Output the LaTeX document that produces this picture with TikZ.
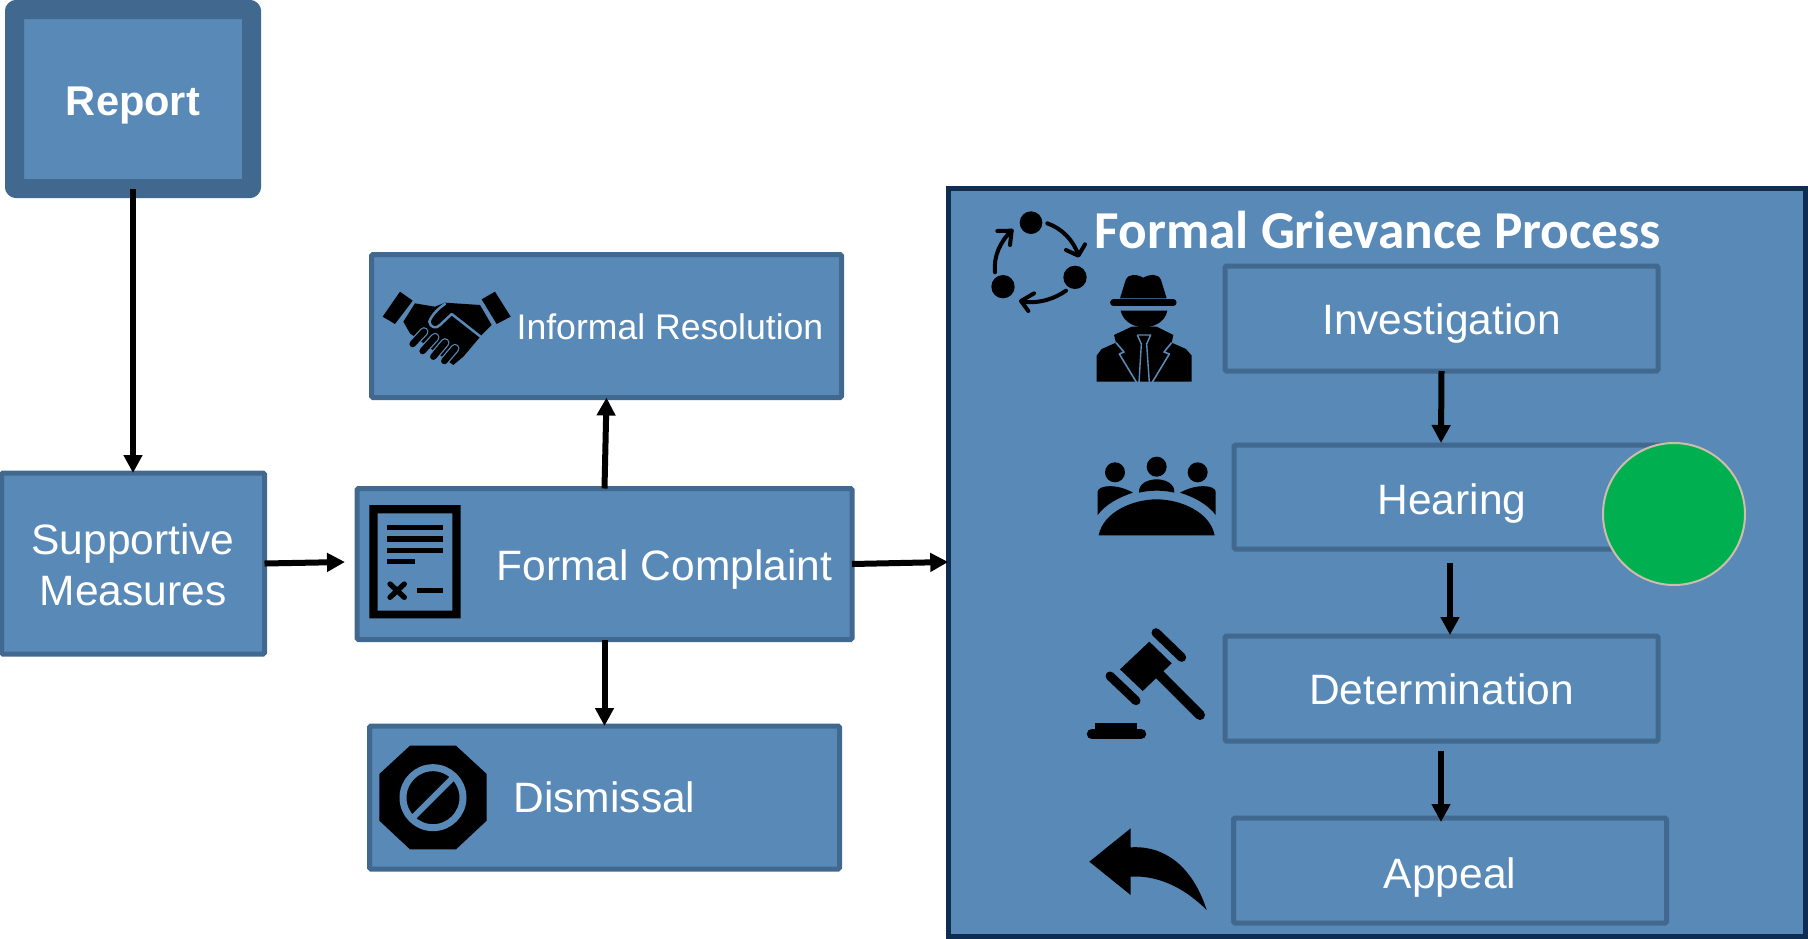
\documentclass[tikz,border=0pt]{standalone}
\usepackage{fontspec}
\setmainfont{Liberation Sans}
\newfontfamily\titlefont{Carlito}
\usetikzlibrary{arrows.meta}
\definecolor{boxfill}{HTML}{5889B7}
\definecolor{boxline}{HTML}{41698F}
\definecolor{navy}{HTML}{0F2D52}
\definecolor{dotgreen}{HTML}{00B050}
\tikzset{
  x=1pt,y=-1pt,
  box/.style={draw=boxline,fill=boxfill,line width=5pt,rounded corners=1.5pt,outer sep=0pt,inner sep=0pt,text=white,align=center,font=\fontsize{42.5}{51}\selectfont},
  lbl/.style={text=white,inner sep=0pt,font=\fontsize{42.5}{51}\selectfont},
  flow/.style={line width=6pt,-{Triangle[length=18pt,width=18pt]}},
  zoomed/.style n args={2}{shift={(#1pt,-#2pt)},x=0.33333pt,y=-0.33333pt},
  inkline/.style={draw=black,line cap=round},
  gap/.style={draw=boxfill,line cap=round},
}
\begin{document}
\begin{tikzpicture}
\useasboundingbox (0,0) rectangle (1808,938);
% boxes
\node[box,line width=19pt,rounded corners=1pt,line join=round,minimum width=237pt,minimum height=179pt,font=\bfseries\fontsize{41.6}{50}\selectfont,text height=33pt,text depth=0pt] (report) at (133,99) {Report};
\node[box,minimum width=263pt,minimum height=181pt] (sm) at (133,563.5) {\rule{0pt}{34pt}Supportive\\Measures};
\node[box,minimum width=495pt,minimum height=151pt] (fc) at (604.5,564) {};
\node[box,minimum width=470pt,minimum height=143pt] (inf) at (606.5,326) {};
\node[box,minimum width=470pt,minimum height=143pt] (dis) at (604.5,797.5) {Dismissal};
\node[draw=navy,fill=boxfill,line width=5pt,outer sep=0pt,inner sep=0pt,minimum width=857.5pt,minimum height=748pt] (big) at (1377,562) {};
\node[box,minimum width=433pt,minimum height=105pt,text height=32pt,text depth=0pt] (inv) at (1441.5,318.5) {Investigation};
\node[box,minimum width=436pt,minimum height=104pt,text height=35pt,text depth=0pt] (hear) at (1452,497) {Hearing};
\node[box,minimum width=433pt,minimum height=105pt,text height=32pt,text depth=0pt] (det) at (1441.5,688.5) {Determination};
\node[box,minimum width=433pt,minimum height=105pt,text height=35pt,text depth=0pt] (app) at (1450,870.5) {Appeal};
\node[lbl,font=\fontsize{35.6}{44}\selectfont] (inflbl) at (670,327) {Informal Resolution};
\node[lbl] (fclbl) at (664.5,570) {Formal Complaint};
\node[lbl,font=\titlefont\bfseries\fontsize{53.3}{62}\selectfont] (title) at (1378,230) {Formal Grievance Process};
\node[circle,draw=black!30!brown!40!white,fill=dotgreen,line width=2pt,minimum size=142pt,inner sep=0pt] (dot) at (1674,514) {};
% connectors
\coordinate (smto) at (345,562);
\coordinate (h0) at (1441,443);
\coordinate (h1) at (1450,563);
\coordinate (h2) at (1450,635);
\coordinate (d1) at (1441,751);
\coordinate (d2) at (1441,822);
\draw[flow] (report.south) -- (sm.north);
\draw[flow] (sm.east) -- (smto);
\draw[flow] (fc.north) -- (inf.south);
\draw[flow] (fc.south) -- (dis.north);
\draw[flow] (fc.east) -- (big.west);
\draw[flow] (inv.south) -- (h0);
\draw[flow] (h1) -- (h2);
\draw[flow] (d1) -- (d2);
% cycle icon
\begin{scope}[zoomed={960}{190}]
\fill (213,98) circle (34);
\fill (345,262) circle (35);
\fill (129,290) circle (35);
\draw[inkline,line width=4pt] (262,100) .. controls (305,115) and (340,150) .. (355,195);
\draw[inkline,line width=4pt,line join=round] (318,180) -- (355,197) -- (375,163);
\draw[inkline,line width=4pt] (318,302) .. controls (285,325) and (240,342) .. (185,335);
\draw[inkline,line width=4pt,line join=round] (222,310) -- (183,333) -- (205,363);
\draw[inkline,line width=4pt] (105,247) .. controls (100,200) and (120,155) .. (155,122);
\draw[inkline,line width=4pt,line join=round] (112,123) -- (155,122) -- (150,165);
% detective
\fill (480,325) -- (497,270) .. controls (505,250) and (530,252) .. (550,263) .. controls (570,252) and (595,250) .. (603,270) -- (620,325) -- cycle;
\draw[inkline,line width=6.5pt] (460,338) -- (640,338);
\fill (482,362) -- (622,362) .. controls (615,400) and (575,412) .. (552,412) .. controls (530,412) and (490,400) .. (482,362) -- cycle;
\fill (410,575) -- (410,497) -- (425,477) -- (468,458) -- (462,435) -- (515,410) -- (590,410) -- (640,435) -- (635,458) -- (678,477) -- (695,497) -- (695,575) -- cycle;
\draw[gap,line width=1.6pt,line cap=butt,line join=round] (468,458) -- (492,486) -- (478,492) -- (530,578);
\draw[gap,line width=1.6pt,line cap=butt,line join=round] (635,458) -- (612,486) -- (628,492) -- (576,578);
\draw[gap,line width=1.4pt,line cap=butt,line join=round] (532,435) -- (572,435) -- (560,462) -- (568,578);
\draw[gap,line width=1.4pt,line cap=butt,line join=round] (532,435) -- (544,462) -- (537,578);
% people
\fill (465,847) circle (30);
\fill (590,830) circle (30);
\fill (713,847) circle (30);
\fill (537,908) .. controls (535,880) and (565,868) .. (590,868) .. controls (615,868) and (645,880) .. (643,908) .. controls (610,900) and (570,900) .. (537,908) -- cycle;
\fill (413,975) -- (413,905) .. controls (415,885) and (470,880) .. (519,908) .. controls (475,922) and (435,945) .. (413,975) -- cycle;
\fill (767,975) -- (767,905) .. controls (765,885) and (710,880) .. (660,908) .. controls (705,922) and (745,945) .. (767,975) -- cycle;
\fill (416,1036) .. controls (430,965) and (520,928) .. (590,928) .. controls (660,928) and (750,965) .. (764,1036) -- cycle;
\end{scope}
% gavel and appeal arrow
\begin{scope}[zoomed={1060}{610}]
\fill (180,178) -- (268,95) -- (335,160) -- (248,243) -- cycle;
\draw[inkline,line width=9pt] (150,198) -- (228,272);
\draw[inkline,line width=9pt] (288,68) -- (365,142);
\draw[inkline,line width=10pt] (300,195) -- (420,315);
\draw[inkline,line width=10.5pt] (96,372) -- (243,372);
\fill (105,338) -- (232,338) -- (232,360) -- (105,360) -- cycle;
\fill (88,755) -- (212,655) -- (212,712) .. controls (330,705) and (405,790) .. (440,900) .. controls (370,830) and (290,795) .. (212,800) -- (212,855) -- cycle;
\end{scope}
% handshake
\begin{scope}[zoomed={350}{250}]
\fill (98,200) -- (150,125) -- (188,152) -- (135,222) -- cycle;
\fill (395,148) -- (435,125) -- (482,200) -- (440,222) -- cycle;
\fill (160,215) -- (195,160) -- (255,170) -- (285,158) -- (390,165) -- (425,225) -- (395,255) -- (340,320) -- (310,345) -- (180,250) -- cycle;
\foreach \xa/\ya/\xb/\yb in {188/282/222/245,218/303/255/262,250/320/285/278,283/333/315/295}{
  \draw[gap,line width=9pt] (\xa,\ya) -- (\xb,\yb);
  \draw[inkline,line width=6.5pt] (\xa,\ya) -- (\xb,\yb);
}
\draw[gap,line width=2.5pt,line join=round] (285,162) .. controls (265,175) and (245,195) .. (238,215) .. controls (240,232) and (258,238) .. (270,225) -- (305,192) -- (392,260);
\end{scope}
% complaint document and dismissal sign
\begin{scope}[zoomed={350}{480}]
\fill[even odd rule] (58,75) rectangle (332,415) (83,100) rectangle (307,392);
\foreach \yy in {143,177,211}{\draw[draw=black,line width=5.3pt] (112,\yy) -- (278,\yy);}
\draw[draw=black,line width=5.3pt] (112,245) -- (195,245);
\draw[inkline,line width=5.3pt] (120,312) -- (163,352);
\draw[inkline,line width=5.3pt] (120,352) -- (163,312);
\draw[draw=black,line width=5.3pt] (200,331) -- (278,331);
\fill (180,797) -- (318,797) -- (410,882) -- (410,1022) -- (318,1108) -- (180,1108) -- (88,1022) -- (88,882) -- cycle;
\draw[draw=boxfill,line width=7pt] (249,953) circle (90);
\draw[draw=boxfill,line width=6pt] (190,1012) -- (308,894);
\end{scope}
\end{tikzpicture}
\end{document}
